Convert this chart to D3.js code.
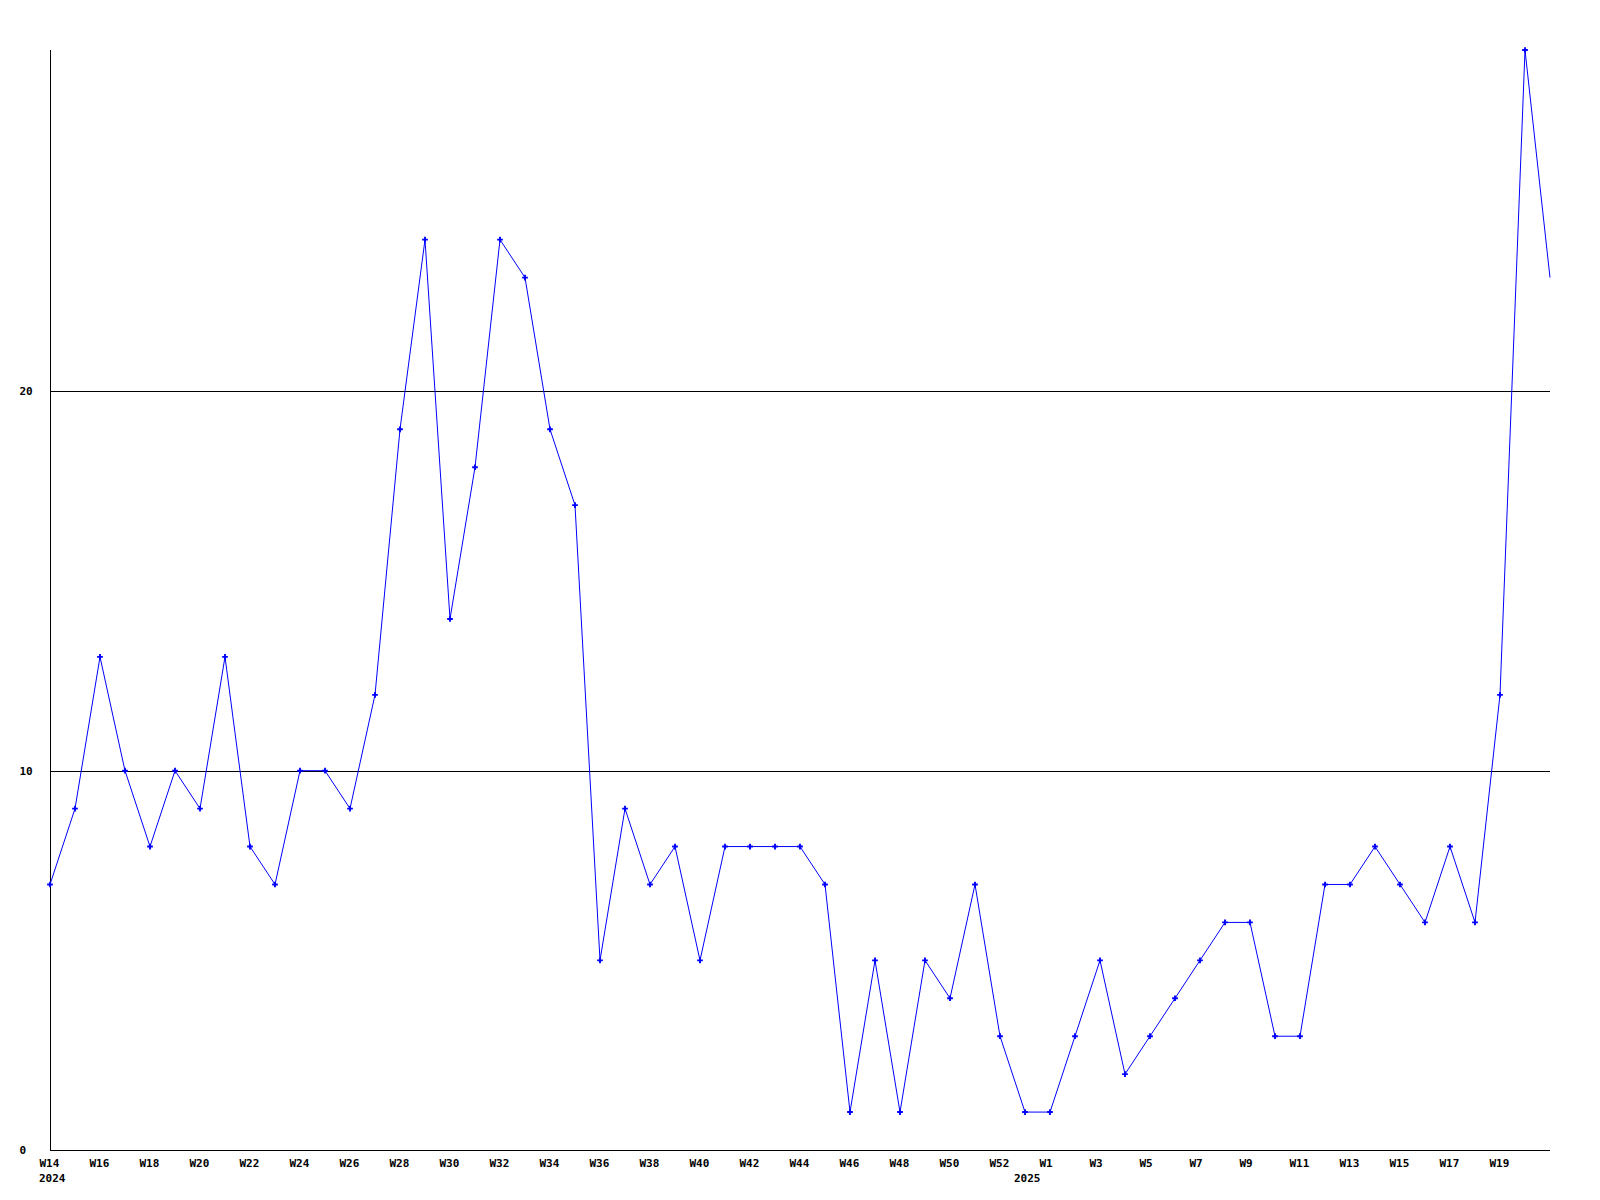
<!DOCTYPE html>
<html>
<head>
<meta charset="utf-8">
<script src="https://cdn.jsdelivr.net/npm/d3@7"></script>
<style>
  html, body { margin: 0; padding: 0; background: #fff; }
  svg text { font-family: "DejaVu Sans Mono", "Liberation Mono", monospace; font-weight: bold; font-size: 11px; fill: #000; }
</style>
</head>
<body>
<svg id="chart" width="1600" height="1200"></svg>
<script>
// Week labels for each data point (index 39 is the partial week containing 1 Jan 2025)
const weeks = [
  "W14","W15","W16","W17","W18","W19","W20","W21","W22","W23",
  "W24","W25","W26","W27","W28","W29","W30","W31","W32","W33",
  "W34","W35","W36","W37","W38","W39","W40","W41","W42","W43",
  "W44","W45","W46","W47","W48","W49","W50","W51","W52","W53",
  "W1","W2","W3","W4","W5","W6","W7","W8","W9","W10",
  "W11","W12","W13","W14","W15","W16","W17","W18","W19","W20","W21"
];
const values = [
  7, 9, 13, 10, 8, 10, 9, 13, 8, 7,
  10, 10, 9, 12, 19, 24, 14, 18, 24, 23,
  19, 17, 5, 9, 7, 8, 5, 8, 8, 8,
  8, 7, 1, 5, 1, 5, 4, 7, 3, 1,
  1, 3, 5, 2, 3, 4, 5, 6, 6, 3,
  3, 7, 7, 8, 7, 6, 8, 6, 12, 29, 23
];
// Indices of labelled ticks
const tickIdx = [0,2,4,6,8,10,12,14,16,18,20,22,24,26,28,30,32,34,36,38,40,42,44,46,48,50,52,54,56,58];
const yearLabels = [{ idx: 0, text: "2024" }, { idx: 39, text: "2025" }];
const yTicks = [0, 10, 20];
const yMax = 29;

(function () {
const svg = d3.select("#chart");
const mLeft = 50, mRight = 1550, mTop = 50, mBottom = 1150;

const x = d3.scaleLinear().domain([0, values.length - 1]).range([mLeft, mRight]);
const y = d3.scaleLinear().domain([0, yMax]).range([mBottom, mTop]);

// gridlines at non-zero ticks
svg.append("g").selectAll("line").data(yTicks.filter(d => d > 0)).join("line")
  .attr("x1", mLeft).attr("x2", mRight)
  .attr("y1", d => Math.round(y(d)) + 0.5).attr("y2", d => Math.round(y(d)) + 0.5)
  .attr("stroke", "#000").attr("stroke-width", 1);

// axes lines
svg.append("line").attr("x1", mLeft + 0.5).attr("x2", mLeft + 0.5).attr("y1", mTop).attr("y2", mBottom)
  .attr("stroke", "#000");
svg.append("line").attr("x1", mLeft).attr("x2", mRight).attr("y1", mBottom + 0.5).attr("y2", mBottom + 0.5)
  .attr("stroke", "#000");

// y labels (left-aligned)
svg.append("g").selectAll("text").data(yTicks).join("text")
  .attr("x", 19.5).attr("y", d => y(d)).attr("dy", "0.35em")
  .attr("text-anchor", "start").text(d => d);

// x labels
svg.append("g").selectAll("text").data(tickIdx).join("text")
  .attr("x", d => x(d) - 10.5).attr("y", 1163).attr("dy", "0.35em")
  .attr("text-anchor", "start").text(d => weeks[d]);

svg.append("g").selectAll("text").data(yearLabels).join("text")
  .attr("x", d => x(d.idx) - 11).attr("y", 1178).attr("dy", "0.35em")
  .attr("text-anchor", "start").text(d => d.text);

// line
const line = d3.line().x((d, i) => x(i)).y(d => y(d));
svg.append("path").datum(values).attr("d", line)
  .attr("fill", "none").attr("stroke", "#0000ff").attr("stroke-width", 1);

// markers (the final point sits on the plot edge and carries no marker)
const sym = d3.symbol().type(d3.symbolCross).size(18);
svg.append("g").selectAll("path").data(values.slice(0, values.length - 1)).join("path")
  .attr("transform", (d, i) => `translate(${x(i)},${y(d)})`)
  .attr("d", sym).attr("fill", "#0000ff");
})();
</script>
</body>
</html>
